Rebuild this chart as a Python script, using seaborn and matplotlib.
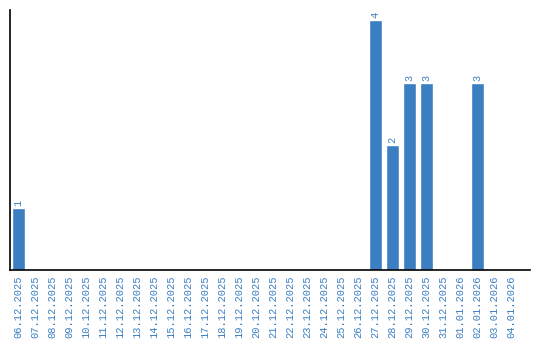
import matplotlib
matplotlib.use("Agg")
import matplotlib.pyplot as plt
import seaborn as sns
import pandas as pd

dates = ["06.12.2025", "07.12.2025", "08.12.2025", "09.12.2025", "10.12.2025",
         "11.12.2025", "12.12.2025", "13.12.2025", "14.12.2025", "15.12.2025",
         "16.12.2025", "17.12.2025", "18.12.2025", "19.12.2025", "20.12.2025",
         "21.12.2025", "22.12.2025", "23.12.2025", "24.12.2025", "25.12.2025",
         "26.12.2025", "27.12.2025", "28.12.2025", "29.12.2025", "30.12.2025",
         "31.12.2025", "01.01.2026", "02.01.2026", "03.01.2026", "04.01.2026"]
counts = [1, 0, 0, 0, 0, 0, 0, 0, 0, 0,
          0, 0, 0, 0, 0, 0, 0, 0, 0, 0,
          0, 4, 2, 3, 3, 0, 0, 3, 0, 0]

df = pd.DataFrame({"date": dates, "count": counts})

sns.set_style("white")
plt.rcParams["font.family"] = ["Liberation Mono", "DejaVu Sans Mono"]

blue = "#3b7ec2"
fig = plt.figure(figsize=(5.4, 3.4), dpi=100)
ax = fig.add_axes([10/540, 70/340, 520/540, 260/340])
sns.barplot(data=df, x="date", y="count", color=blue, saturation=1, width=0.82, ax=ax)

ax.set_xlim(-0.5, 30.09)
ax.set_ylim(0, 4.16)
ax.set_xlabel("")
ax.set_ylabel("")
ax.set_yticks([])
ax.tick_params(axis="x", length=0, pad=4, labelsize=7.5, labelcolor=blue)
plt.setp(ax.get_xticklabels(), rotation=90)
for s in ["top", "right"]:
    ax.spines[s].set_visible(False)
for s in ["left", "bottom"]:
    ax.spines[s].set_color("black")
    ax.spines[s].set_linewidth(1.2)

for i, v in enumerate(counts):
    if v > 0:
        ax.text(i, v + 0.03, str(v), rotation=90, ha="center", va="bottom",
                fontsize=7.5, color=blue)

fig.savefig("out.png", dpi=100)
